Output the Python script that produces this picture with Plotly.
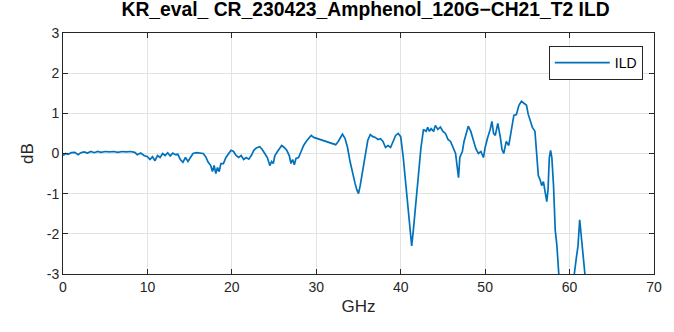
import plotly.graph_objects as go

freq_ghz = [0.0, 0.3, 0.6, 1.0, 1.4, 1.8, 2.1, 2.5, 2.9, 3.3, 3.7, 4.1, 4.5, 5.0, 5.5, 6.0, 6.5, 7.0, 7.5, 8.0,
            8.5, 8.8, 9.2, 9.6, 10.0, 10.3, 10.6, 10.9, 11.2, 11.5, 11.8, 12.1, 12.4, 12.7, 13.0, 13.3, 13.6, 13.9,
            14.2, 14.5, 14.8, 15.1, 15.4, 15.8, 16.2, 16.6, 16.9, 17.2, 17.5, 17.7, 17.9, 18.1, 18.3, 18.5, 18.7,
            19.0, 19.3, 19.6, 19.9, 20.2, 20.5, 20.8, 21.1, 21.4, 21.7, 22.0, 22.3, 22.6, 22.9, 23.3, 23.6, 23.9,
            24.2, 24.5, 24.7, 24.9, 25.1, 25.4, 25.7, 25.9, 26.2, 26.5, 26.8, 27.0, 27.2, 27.4, 27.6, 27.9, 28.2,
            28.5, 28.8, 29.1, 29.4, 29.7, 30.0, 30.4, 30.8, 31.2, 31.6, 32.0, 32.3, 32.6, 32.9, 33.1, 33.4, 33.7,
            34.0, 34.3, 34.6, 34.8, 35.0, 35.2, 35.5, 35.8, 36.1, 36.4, 36.7, 37.0, 37.3, 37.6, 37.9, 38.2, 38.5,
            38.8, 39.1, 39.4, 39.7, 40.0, 40.3, 40.6, 40.9, 41.1, 41.3, 41.5, 41.8, 42.1, 42.4, 42.7, 43.0, 43.2,
            43.4, 43.6, 43.9, 44.1, 44.4, 44.7, 45.0, 45.3, 45.6, 45.9, 46.2, 46.5, 46.7, 46.85, 47.0, 47.3, 47.5,
            47.8, 48.0, 48.3, 48.6, 48.9, 49.2, 49.5, 49.8, 50.0, 50.3, 50.6, 50.8, 51.0, 51.2, 51.5, 51.8, 52.0,
            52.2, 52.5, 52.8, 53.1, 53.4, 53.7, 54.0, 54.3, 54.6, 54.9, 55.1, 55.4, 55.6, 55.9, 56.1, 56.3, 56.5,
            56.7, 56.9, 57.1, 57.3, 57.45, 57.6, 57.75, 57.9, 58.1, 58.3, 58.5, 58.8, 59.2, 60.0, 60.5, 60.8, 61.0,
            61.2, 61.4, 61.6, 61.9, 62.5]

ild_db = [-0.05, 0.0, -0.02, 0.02, 0.03, -0.03, 0.02, 0.04, 0.01, 0.05, 0.02, 0.05, 0.03, 0.05, 0.04, 0.05, 0.03, 0.05, 0.04, 0.05,
          0.03, -0.03, 0.01, -0.05, -0.08, -0.15, -0.08, -0.18, -0.05, -0.1, 0.0, -0.05, 0.02, -0.06, 0.01, -0.03, -0.02, -0.15,
          -0.22, -0.1, -0.2, -0.08, 0.0, 0.02, 0.01, 0.0, -0.08, -0.22, -0.3, -0.45, -0.3, -0.5, -0.35, -0.45, -0.25,
          -0.25, -0.1, 0.0, 0.08, 0.05, -0.05, -0.1, -0.05, -0.15, -0.1, -0.14, -0.05, 0.08, 0.14, 0.17, 0.1, 0.0,
          -0.1, -0.3, -0.2, -0.25, -0.05, 0.05, 0.15, 0.2, 0.15, 0.08, -0.05, -0.25, -0.15, -0.28, -0.12, -0.1, 0.05,
          0.2, 0.3, 0.38, 0.45, 0.4, 0.38, 0.35, 0.32, 0.3, 0.27, 0.25, 0.22, 0.3, 0.42, 0.48, 0.38, 0.15,
          -0.2, -0.5, -0.75, -0.9, -1.0, -0.8, -0.4, 0.0, 0.33, 0.47, 0.42, 0.4, 0.35, 0.37, 0.3, 0.15, 0.2,
          0.15, 0.3, 0.45, 0.5, 0.42, -0.1, -0.8, -1.3, -1.8, -2.3, -1.9, -1.2, -0.5, 0.15, 0.6, 0.55, 0.65,
          0.55, 0.62, 0.55, 0.7, 0.6, 0.66, 0.55, 0.5, 0.35, 0.3, 0.15, 0.0, -0.35, -0.6, -0.1, 0.05, 0.3,
          0.55, 0.68, 0.55, 0.35, 0.12, 0.0, 0.05, -0.1, 0.15, 0.4, 0.6, 0.8, 0.5, 0.45, 0.75, 0.4, 0.1,
          0.0, 0.3, 0.2, 0.55, 0.95, 0.97, 1.2, 1.3, 1.25, 1.2, 0.98, 0.8, 0.65, 0.55, 0.1, -0.55, -0.65,
          -0.8, -0.7, -1.0, -1.2, -0.9, -0.1, 0.08, -0.1, -0.8, -1.9, -2.3, -3.2, -4.5, -5.0, -3.1, -2.6, -2.3,
          -1.65, -2.1, -2.5, -3.2, -4.5]

x_ticks = [0, 10, 20, 30, 40, 50, 60, 70]
y_ticks = [-3, -2, -1, 0, 1, 2, 3]

title_text = "KR_eval_ CR_230423_Amphenol_120G\u2212CH21_T2 ILD"
series_name = "ILD"

axis_color = "#262626"
grid_color = "#e3e3e3"
font_family = "Liberation Sans, Arial, Helvetica, sans-serif"

fig = go.Figure()
fig.add_trace(go.Scatter(
    x=freq_ghz, y=ild_db, mode="lines", name=series_name,
    line=dict(color="#0072BD", width=1.7),
))

axis_common = dict(
    showline=True, linecolor=axis_color, linewidth=1, mirror="ticks",
    ticks="inside", ticklen=5, tickcolor=axis_color, tickwidth=1,
    showgrid=True, gridcolor=grid_color, gridwidth=1, zeroline=False,
    tickfont=dict(family=font_family, size=14, color=axis_color),
)

fig.update_xaxes(range=[0, 70], tickvals=x_ticks, ticktext=[str(v) for v in x_ticks],
                 title=dict(text="GHz", font=dict(family=font_family, size=17, color=axis_color), standoff=6),
                 **axis_common)
fig.update_yaxes(range=[-3, 3], tickvals=y_ticks, ticktext=[("-" + str(-v)) if v < 0 else str(v) for v in y_ticks],
                 title=dict(text="dB", font=dict(family=font_family, size=17, color=axis_color), standoff=8),
                 **axis_common)

fig.update_layout(
    width=674, height=332,
    margin=dict(l=63, r=16, t=33, b=58),
    paper_bgcolor="white", plot_bgcolor="white",
    title=dict(text="<b>" + title_text + "</b>", x=0.512, xref="paper", xanchor="center",
               y=0.992, yanchor="top", font=dict(family=font_family, size=19.3, color="black")),
    showlegend=True,
    legend=dict(x=0.981, y=0.946, xanchor="right", yanchor="top",
                bgcolor="white", bordercolor=axis_color, borderwidth=1,
                font=dict(family=font_family, size=14, color="black"),
                itemwidth=55, tracegroupgap=0),
)

fig.write_html("out.html")
